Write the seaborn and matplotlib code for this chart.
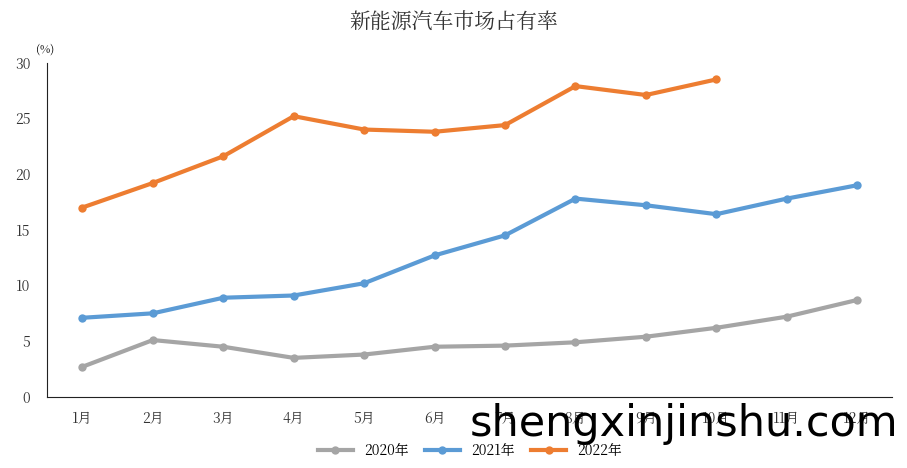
import numpy as np
import pandas as pd
import seaborn as sns
import matplotlib.pyplot as plt
from matplotlib import font_manager

cjk = [f.name for f in font_manager.fontManager.ttflist if 'CJK' in f.name]
plt.rcParams['font.family'] = (['Noto Sans CJK SC'] if 'Noto Sans CJK SC' in cjk else cjk[:1]) + ['DejaVu Sans']

months = ['1月', '2月', '3月', '4月', '5月', '6月', '7月', '8月', '9月', '10月', '11月', '12月']
share_2020 = [2.7, 5.1, 4.5, 3.5, 3.8, 4.5, 4.6, 4.9, 5.4, 6.2, 7.2, 8.7]
share_2021 = [7.1, 7.5, 8.9, 9.1, 10.2, 12.7, 14.5, 17.8, 17.2, 16.4, 17.8, 19.0]
share_2022 = [17.0, 19.2, 21.6, 25.2, 24.0, 23.8, 24.4, 27.9, 27.1, 28.5]

rows = []
for year, vals in [('2020年', share_2020), ('2021年', share_2021), ('2022年', share_2022)]:
    for i, v in enumerate(vals):
        rows.append({'month': i, 'share': v, 'year': year})
df = pd.DataFrame(rows)

palette = {'2020年': '#a5a5a5', '2021年': '#5b9bd5', '2022年': '#ed7d31'}

fig = plt.figure(figsize=(9.07, 4.68), dpi=100)
ax = fig.add_axes([0.052, 0.152, 0.932, 0.714])
sns.lineplot(data=df, x='month', y='share', hue='year', palette=palette,
             marker='o', markersize=6, markeredgewidth=0, linewidth=3, ax=ax)

ax.set_xlim(-0.5, 11.5)
ax.set_ylim(0, 30)
ax.set_yticks(range(0, 31, 5))
ax.set_xticks(range(12))
ax.set_xticklabels(months)
ax.tick_params(length=0, labelsize=10, colors='#333333')
ax.tick_params(axis='x', pad=10)
ax.tick_params(axis='y', pad=12)
ax.set_xlabel('')
ax.set_ylabel('')
for s in ['top', 'right']:
    ax.spines[s].set_visible(False)
for s in ['left', 'bottom']:
    ax.spines[s].set_color('#222222')
ax.text(-0.002, 1.02, '(%)', transform=ax.transAxes, ha='center', va='bottom', fontsize=8)

fig.suptitle('新能源汽车市场占有率', y=0.975, fontsize=15, color='#333333')
ax.legend(loc='upper center', bbox_to_anchor=(0.5, -0.1), ncol=3, frameon=False,
          fontsize=10, handlelength=2.5, columnspacing=1.2)

fig.text(0.99, 0.05, 'shengxinjinshu.com', ha='right', va='bottom', fontsize=31,
         color='black', family='DejaVu Sans')

fig.savefig('out.png', dpi=100)
